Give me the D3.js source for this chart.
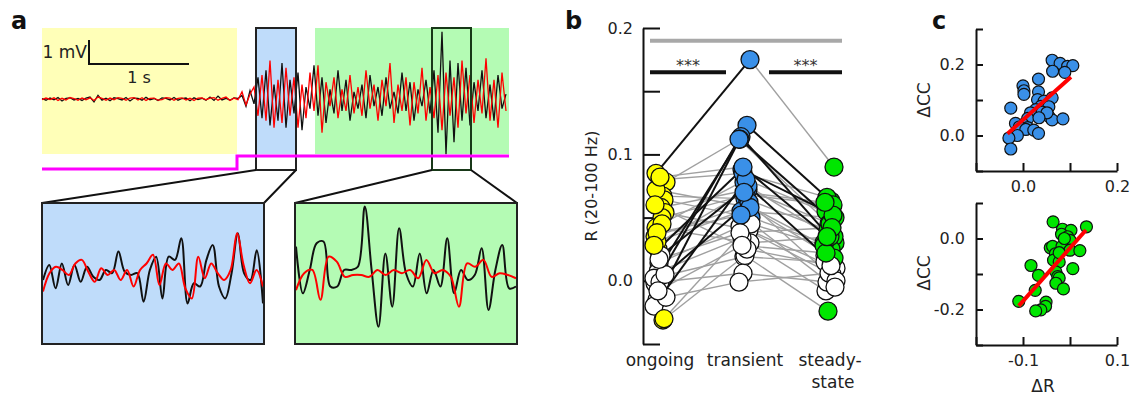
<!DOCTYPE html>
<html>
<head>
<meta charset="utf-8">
<script src="https://cdn.jsdelivr.net/npm/d3@7"></script>
<style>
  body { margin: 0; background: #fff; }
  text { font-family: "DejaVu Sans", sans-serif; fill: #222; }
</style>
</head>
<body>
<script>
// ---------- panel a : LFP traces (mV), one sample every 0.04 s ----------
var sampleStep = 0.04
var traceBlack = [
  0.02, -0.05, 0.04, -0.03, 0.06, -0.08, 0.03, 0.05, -0.04, 0.02,
  -0.06, 0.04, 0.08, -0.12, 0.15, -0.05, 0.03, -0.07, 0.05, 0.02,
  -0.04, 0.06, -0.08, 0.04, 0.03, -0.05, 0.07, -0.03, 0.02, -0.06,
  0.05, 0.03, -0.04, 0.06, -0.05, 0.02, 0.04, -0.07, 0.05, -0.02,
  0.03, -0.05, 0.08, -0.06, 0.12, -0.04, 0.03, -0.05, 0.04, 0.02,
  0.15, -0.3, 0.35, -0.2, 0.9, -0.8, 1.2, -1.1, 0.6, -0.9,
  1.5, -1.2, 0.8, -0.6, 1.1, -1.3, 0.5, -0.4, 1.4, -0.7,
  0.9, -1.0, 0.4, -0.6, 1.2, -0.5, 0.8, -0.9, 0.3, -0.4,
  0.6, -0.8, 1.0, -0.3, 0.5, -0.7, 0.9, -0.4, 0.3, -0.6,
  1.1, -0.5, 0.7, -0.9, 0.4, -0.3, 0.8, -0.6, 1.2, -1.4,
  2.8, -2.3, 1.6, -1.8, 1.5, -0.9, 1.3, -1.1, 0.7, -0.5,
  1.2, -0.8, 0.6, -0.9, 1.0, -0.4, 0.2
]
var traceRed = [
  -0.03, 0.04, -0.02, 0.05, -0.06, 0.03, -0.04, 0.06, 0.02, -0.05,
  0.04, -0.03, 0.05, -0.06, 0.08, 0.03, -0.05, 0.04, -0.03, 0.06,
  0.03, -0.05, 0.04, 0.06, -0.04, 0.05, -0.06, 0.03, 0.04, -0.05,
  -0.03, 0.06, 0.04, -0.05, 0.03, 0.05, -0.04, 0.03, -0.06, 0.04,
  0.05, -0.03, 0.04, 0.06, -0.05, 0.03, 0.08, -0.06, 0.04, -0.03,
  0.3, -0.25, 0.2, 0.5, -0.7, 1.0, -0.9, 1.6, -1.2, 0.8,
  -1.0, 1.3, -0.7, 0.9, -1.2, 0.6, -0.8, 1.1, -0.5, 1.4,
  -1.4, 0.7, -0.3, 0.9, -0.8, 0.4, -0.5, 1.0, -0.6, 0.5,
  -0.7, 1.2, -0.4, 0.6, -0.9, 0.8, -0.3, 1.5, -1.0, 0.6,
  -0.5, 0.9, -1.1, 0.7, -0.6, 1.3, -0.9, 0.5, -0.8, 1.0,
  -1.3, 1.1, -0.7, 0.9, -1.2, 1.6, -0.6, 1.0, -1.0, 0.8,
  -0.6, 1.7, -0.9, 0.8, -1.2, 1.1, -0.5
]
var traceDuration = 4.67   // s
var stimOnset = 1.95       // s
var windowOngoing = [0, 1.95]
var windowTransient = [2.14, 2.54]
var windowSteady = [2.73, 4.67]
var windowZoom = [3.9, 4.29]

// zoomed traces (mV)
var zoomTransientBlack = [-0.14, 0.28, -0.37, 0.32, -0.28, 0.28, -0.19, 0.23, -0.05, -0.14,
  0.14, 0.05, 0.65, 0.09, 0, 0.05, -0.74, 0.14, 0.51, -0.65, 0.51, 0.42, 1.02, -0.79,
  -0.23, -0.32, 0.42, 0.83, -0.32, -0.65, 0.05, 1.16, 0.05, -0.14, 0.69, -0.79]
var zoomTransientRed = [-0.46, 0.05, 0.23, 0.14, 0, 0.32, 0.42, 0.09, -0.19, 0.19, 0, 0.14,
  -0.14, 0.14, -0.32, 0.14, 0.32, 0.56, -0.28, 0.32, 0.14, 0.32, -0.37, -0.65, 0.51, -0.09,
  0.32, 0.05, -0.14, 0.14, 1.16, 0.28, -0.23, 0.14, -0.32]
var zoomSteadyBlack = [0.79, -0.51, 0.14, 0.88, 0.93, -0.32, -0.32, 0.14, 0.14, 0.23, 1.9,
  0.14, -1.44, 0.6, -0.88, 1.3, 0.05, -0.32, 0.6, -0.51, 0.14, -0.32, 1.02, -0.51, 0.14,
  -0.14, 0, 0.74, -0.97, 0.14, 0.83, -0.37, -0.32]
var zoomSteadyRed = [-0.42, 0.05, 0.14, -0.69, 0.51, 0.37, -0.05, 0, 0, -0.05, 0.14, 0, 0.14,
  0.05, 0.14, -0.09, 0.42, 0.05, 0.14, -0.05, -0.88, 0.32, 0.23, 0.42, -0.05, 0.05, 0, -0.09]

// ---------- panel b : R (20-100 Hz) per cell ----------
var conditions = ['ongoing', 'transient', 'steady-state']
var rOngoing = [0.085, -0.002, -0.015, 0.010, 0.025, -0.020, 0.080, 0.078, 0.067, 0.064, 0.058,
  0.054, 0.050, 0.042, 0.035, 0.031, 0.014, 0.007, 0.002, -0.001, -0.013, -0.031, -0.030,
  0.020, 0.005, 0.045, 0.072, 0.060, 0.038, 0.017, -0.008, 0.028, 0.082]
var rTransient = [0.175, 0.123, 0.114, 0.112, 0.088, 0.078, 0.085, 0.112, 0.065, 0.050, 0.072,
  0.040, 0.068, 0.030, 0.060, 0.055, 0.043, 0.034, 0.019, 0.006, -0.001, 0.020, 0.045,
  0.075, 0.062, 0.080, 0.058, 0.025, 0.052, 0.038, 0.028, 0.070, 0.090]
var rSteady = [0.090, 0.063, 0.030, 0.048, 0.055, 0.020, 0.066, 0.045, 0.040, 0.030, 0.045,
  0.010, 0.060, 0.035, 0.025, 0.050, 0.005, -0.008, 0.015, -0.001, 0.006, -0.024, 0.028,
  0.035, 0.000, 0.052, 0.018, 0.012, -0.005, 0.042, 0.022, 0.062, 0.035]
var sigOngoing = [1, 0, 0, 0, 1, 0, 1, 1, 1, 1, 1, 1, 1, 1, 1, 1, 0, 0, 0, 0, 0, 1, 1, 0, 0, 1, 1, 1, 1, 0, 0, 1, 1]
var sigTransient = [1, 1, 1, 1, 1, 1, 1, 1, 1, 1, 1, 0, 1, 0, 1, 1, 0, 0, 0, 0, 0, 0, 0, 1, 1, 1, 1, 0, 1, 0, 0, 1, 1]
var sigSteady = [1, 1, 1, 1, 1, 0, 1, 1, 1, 1, 1, 0, 1, 1, 1, 1, 0, 0, 0, 0, 0, 1, 1, 1, 0, 1, 1, 0, 0, 1, 1, 1, 1]
var boldRise = [1, 1, 1, 1, 1, 1, 0, 0, 0, 0, 0, 0, 0, 0, 0, 0, 0, 0, 0, 0, 0, 0, 0, 1, 1, 0, 0, 0, 0, 0, 0, 0, 0]
var boldFall = [0, 1, 1, 1, 1, 1, 0, 0, 0, 0, 0, 0, 0, 0, 0, 0, 0, 0, 0, 0, 0, 0, 0, 0, 0, 0, 0, 0, 0, 0, 0, 0, 1]
var barGrey = 0.19
var barSig = 0.165
var sigLabel = '***'

// ---------- panel c : change in CC vs change in R ----------
var dRTransient = [0.062, 0.079, 0.095, 0.106, 0.063, 0.089, 0.033, 0.000, 0.002, 0.002, 0.033,
  -0.026, 0.031, 0.045, 0.062, 0.038, 0.027, 0.055, 0.016, 0.041, 0.055, 0.062, 0.085, 0.010,
  0.000, -0.016, -0.008, 0.010, 0.006, 0.023, 0.033, -0.012, -0.030, -0.026, 0.051, 0.034]
var dCCTransient = [0.212, 0.203, 0.195, 0.197, 0.181, 0.178, 0.159, 0.140, 0.126, 0.116, 0.123,
  0.077, 0.101, 0.097, 0.106, 0.082, 0.073, 0.081, 0.064, 0.066, 0.054, 0.044, 0.047, 0.048,
  0.031, 0.034, 0.024, 0.022, 0.017, 0.015, 0.006, 0.000, -0.007, -0.038, 0.064, 0.050]
var dRSteady = [-0.036, -0.016, 0.002, 0.035, -0.018, -0.005, 0.000, -0.042, -0.037, -0.017,
  0.000, 0.021, -0.031, -0.026, -0.035, -0.023, -0.083, -0.030, 0.006, -0.067, -0.026, -0.023,
  -0.030, -0.014, -0.074, -0.109, -0.051, -0.052, -0.062, -0.073, -0.012, -0.023]
var dCCSteady = [0.047, 0.026, 0.023, 0.033, 0.012, 0.005, -0.005, -0.026, -0.022, -0.022,
  -0.033, -0.034, -0.043, -0.057, -0.061, -0.066, -0.076, -0.094, -0.085, -0.104, -0.107, -0.111,
  -0.126, -0.142, -0.146, -0.177, -0.179, -0.191, -0.201, -0.204, 0.000, -0.040]
var fitTransient = [[-0.033, 0.005], [0.102, 0.165]]
var fitSteady = [[-0.109, -0.19], [0.034, 0.024]]

// ---------- drawing ----------
var yellow = '#ffff00'
var blue = '#3a90e8'
var green = '#00e600'

var svg = d3.select('body').append('svg')
  .attr('width', 1133)
  .attr('height', 396)

var letters = [['a', 11, 29], ['b', 565, 29], ['c', 932, 29]]
letters.forEach(function (l) {
  svg.append('text').attr('x', l[1]).attr('y', l[2])
    .style('font-size', '24px').style('font-weight', 'bold')
    .style('fill', '#111')
    .text(l[0])
})

drawPanelA()
drawPanelB()
drawPanelC()

function drawPanelA () {
  var g = svg.append('g')
  var x = d3.scaleLinear().domain([0, traceDuration]).range([42, 509])
  var y = d3.scaleLinear().domain([-1, 1]).range([123, 75])
  var top = 28
  var bottom = 154

  g.append('rect').attr('x', x(windowOngoing[0])).attr('y', top)
    .attr('width', x(windowOngoing[1]) - x(windowOngoing[0])).attr('height', bottom - top)
    .style('fill', '#ffffb8')
  g.append('rect').attr('x', x(windowTransient[0])).attr('y', top)
    .attr('width', x(windowTransient[1]) - x(windowTransient[0])).attr('height', bottom - top)
    .style('fill', '#bfdcfa')
  g.append('rect').attr('x', x(windowSteady[0])).attr('y', top)
    .attr('width', x(windowSteady[1]) - x(windowSteady[0])).attr('height', bottom - top)
    .style('fill', '#b4fbb4')

  var line = d3.line()
    .x(function (d, i) { return x(i * sampleStep) })
    .y(function (d) { return y(d) })
  g.append('path').datum(traceBlack).attr('d', line)
    .style('fill', 'none').style('stroke', '#111').style('stroke-width', 1.3)
  g.append('path').datum(traceRed).attr('d', line)
    .style('fill', 'none').style('stroke', '#ff0000').style('stroke-width', 1.3)

  // source windows of the zooms
  var boxBottom = 170
  var sources = [[windowTransient, '#222'], [windowZoom, '#183818']]
  sources.forEach(function (s) {
    g.append('rect').attr('x', x(s[0][0])).attr('y', top)
      .attr('width', x(s[0][1]) - x(s[0][0])).attr('height', boxBottom - top)
      .style('fill', 'none').style('stroke', s[1]).style('stroke-width', 2)
  })

  // stimulus
  g.append('path')
    .attr('d', 'M' + x(0) + ',169H' + x(stimOnset) + 'V156H' + x(traceDuration))
    .style('fill', 'none').style('stroke', '#ff00ff').style('stroke-width', 3)

  // scale bar: 1 mV x 1 s
  var sx = x(0.47)
  var sy = y(0) - 35
  var mv = y(0) - y(1)
  g.append('path')
    .attr('d', 'M' + sx + ',' + (sy - mv) + 'V' + sy + 'H' + (sx + (x(1) - x(0))))
    .style('fill', 'none').style('stroke', '#111').style('stroke-width', 2)
  g.append('text').attr('x', sx - 2).attr('y', sy - 6).attr('text-anchor', 'end')
    .style('font-size', '17px').text('1 mV')
  g.append('text').attr('x', sx + (x(1) - x(0)) / 2).attr('y', sy + 19).attr('text-anchor', 'middle')
    .style('font-size', '16px').text('1 s')

  // insets
  var insets = [
    { win: windowTransient, x0: 42, x1: 264, fill: '#bfdcfa', black: zoomTransientBlack, red: zoomTransientRed },
    { win: windowZoom, x0: 295, x1: 517, fill: '#b4fbb4', black: zoomSteadyBlack, red: zoomSteadyRed }
  ]
  var iy = d3.scaleLinear().domain([-1, 1]).range([311, 239])
  insets.forEach(function (ins, k) {
    g.append('path')
      .attr('d', 'M' + x(ins.win[0]) + ',' + boxBottom + 'L' + ins.x0 + ',203' +
        'M' + x(ins.win[1]) + ',' + boxBottom + 'L' + ins.x1 + ',203')
      .style('fill', 'none').style('stroke', '#111').style('stroke-width', 2)
    g.append('rect').attr('x', ins.x0).attr('y', 203)
      .attr('width', ins.x1 - ins.x0).attr('height', 141)
      .style('fill', ins.fill)
    var clipId = 'inset' + k
    g.append('clipPath').attr('id', clipId).append('rect')
      .attr('x', ins.x0).attr('y', 203).attr('width', ins.x1 - ins.x0).attr('height', 141)
    var gi = g.append('g').attr('clip-path', 'url(#' + clipId + ')')
    ;[[ins.black, '#111'], [ins.red, '#ff0000']].forEach(function (tr) {
      var ix = d3.scaleLinear().domain([0, tr[0].length - 1]).range([ins.x0 + 1, ins.x1 - 1])
      gi.append('path').datum(tr[0])
        .attr('d', d3.line().curve(d3.curveCatmullRom)
          .x(function (d, i) { return ix(i) })
          .y(function (d) { return iy(d) }))
        .style('fill', 'none').style('stroke', tr[1]).style('stroke-width', 2)
    })
    g.append('rect').attr('x', ins.x0).attr('y', 203)
      .attr('width', ins.x1 - ins.x0).attr('height', 141)
      .style('fill', 'none').style('stroke', '#222').style('stroke-width', 2)
  })
}

function labelFormat (labels) {
  return function (v) {
    var hit = labels.some(function (l) { return Math.abs(l - v) < 1e-9 })
    return hit ? v.toFixed(1) : ''
  }
}

function styleAxis (ax, size) {
  ax.attr('font-family', null).attr('font-size', null)
  ax.selectAll('path, line').style('stroke', '#111').style('stroke-width', 2)
  ax.selectAll('text').style('font-size', size).style('fill', '#222')
}

function drawPanelB () {
  var g = svg.append('g')
  var x = d3.scaleLinear().domain([0, 2]).range([660, 830])
  var y = d3.scaleLinear().domain([-0.05, 0.2]).range([344, 28])
  var jit = [-4, 3, -1, 5, 0, -5, 4, -2, 2, 6, -3, 1, -6]

  var ax = g.append('g').attr('transform', 'translate(643,0)')
    .call(d3.axisLeft(y).tickValues([-0.05, 0, 0.05, 0.1, 0.15, 0.2])
      .tickSize(-17).tickSizeOuter(0).tickPadding(10)
      .tickFormat(labelFormat([0, 0.1, 0.2])))
  styleAxis(ax, '16px')

  g.append('text').attr('transform', 'translate(597,186) rotate(-90)')
    .attr('text-anchor', 'middle').style('font-size', '16px').text('R (20-100 Hz)')

  var catLabels = g.append('g')
  conditions.forEach(function (c, i) {
    var parts = c === 'steady-state' ? ['steady-', 'state'] : [c]
    parts.forEach(function (p, j) {
      catLabels.append('text').attr('x', x(i) + (j ? 3 : 0)).attr('y', 366 + j * 22)
        .attr('text-anchor', 'middle').style('font-size', '17px').text(p)
    })
  })

  var cells = rOngoing.map(function (o, i) {
    return {
      v: [o, rTransient[i], rSteady[i]],
      sig: [sigOngoing[i], sigTransient[i], sigSteady[i]],
      bold: [boldRise[i], boldFall[i]],
      px: [0, 1, 2].map(function (c) { return x(c) + jit[(i * 5 + c * 3) % jit.length] })
    }
  })

  // connecting lines: grey first, bold on top
  ;[0, 1].forEach(function (pass) {
    cells.forEach(function (c) {
      ;[0, 1].forEach(function (s) {
        if (c.bold[s] !== pass) return
        g.append('line')
          .attr('x1', c.px[s]).attr('y1', y(c.v[s]))
          .attr('x2', c.px[s + 1]).attr('y2', y(c.v[s + 1]))
          .style('stroke', pass ? '#111' : '#a0a0a0')
          .style('stroke-width', pass ? 2 : 1.4)
      })
    })
  })

  var fills = [yellow, blue, green]
  ;[0, 1, 2].forEach(function (col) {
    g.append('g').selectAll('circle').data(cells).join('circle')
      .attr('cx', function (d) { return d.px[col] })
      .attr('cy', function (d) { return y(d.v[col]) })
      .attr('r', 9)
      .style('fill', function (d) { return d.sig[col] ? fills[col] : '#fff' })
      .style('stroke', '#111').style('stroke-width', 1.3)
  })

  // significance bars
  g.append('line').attr('x1', 650).attr('x2', 842).attr('y1', y(barGrey)).attr('y2', y(barGrey))
    .style('stroke', '#a8a8a8').style('stroke-width', 4)
  var segs = [[650, 726], [769, 842]]
  segs.forEach(function (s) {
    g.append('line').attr('x1', s[0]).attr('x2', s[1]).attr('y1', y(barSig)).attr('y2', y(barSig))
      .style('stroke', '#111').style('stroke-width', 4)
    g.append('text').attr('x', (s[0] + s[1]) / 2).attr('y', y(barSig) - 1)
      .attr('text-anchor', 'middle').style('font-size', '16px').style('fill', '#333').text(sigLabel)
  })
}

function drawPanelC () {
  var specs = [
    { xr: [-0.1, 0.2], yr: [-0.1, 0.3], top: 29, bottom: 171, xs: dRTransient, ys: dCCTransient,
      fit: fitTransient, color: blue, xl: [0, 0.2], yl: [0, 0.2], ylabelY: 100, xlabel: null },
    { xr: [-0.2, 0.1], yr: [-0.3, 0.1], top: 203, bottom: 345, xs: dRSteady, ys: dCCSteady,
      fit: fitSteady, color: green, xl: [-0.1, 0.1], yl: [0, -0.2], ylabelY: 273, xlabel: 'ΔR' }
  ]
  specs.forEach(function (s) {
    var g = svg.append('g')
    var x = d3.scaleLinear().domain(s.xr).range([976, 1117])
    var y = d3.scaleLinear().domain(s.yr).range([s.bottom, s.top])
    var xt = d3.range(s.xr[0] * 10, s.xr[1] * 10 + 0.5).map(function (v) { return v / 10 })
    var yt = d3.range(s.yr[0] * 10, s.yr[1] * 10 + 0.5).map(function (v) { return v / 10 })

    var ay = g.append('g').attr('transform', 'translate(976,0)')
      .call(d3.axisLeft(y).tickValues(yt).tickSize(-7).tickSizeOuter(0).tickPadding(11)
        .tickFormat(labelFormat(s.yl)))
    styleAxis(ay, '16px')
    var axx = g.append('g').attr('transform', 'translate(0,' + s.bottom + ')')
      .call(d3.axisBottom(x).tickValues(xt).tickSize(-8).tickSizeOuter(0).tickPadding(10)
        .tickFormat(labelFormat(s.xl)))
    styleAxis(axx, '16px')

    g.append('text').attr('transform', 'translate(930,' + s.ylabelY + ') rotate(-90)')
      .attr('text-anchor', 'middle').style('font-size', '17px').text('ΔCC')
    if (s.xlabel) {
      g.append('text').attr('x', 1043).attr('y', 392).attr('text-anchor', 'middle')
        .style('font-size', '17px').text(s.xlabel)
    }

    g.append('g').selectAll('circle').data(s.xs).join('circle')
      .attr('cx', function (d) { return x(d) })
      .attr('cy', function (d, i) { return y(s.ys[i]) })
      .attr('r', 6)
      .style('fill', s.color).style('stroke', '#111').style('stroke-width', 1.2)

    g.append('line')
      .attr('x1', x(s.fit[0][0])).attr('y1', y(s.fit[0][1]))
      .attr('x2', x(s.fit[1][0])).attr('y2', y(s.fit[1][1]))
      .style('stroke', '#ff0000').style('stroke-width', 4)
  })
}
</script>
</body>
</html>
